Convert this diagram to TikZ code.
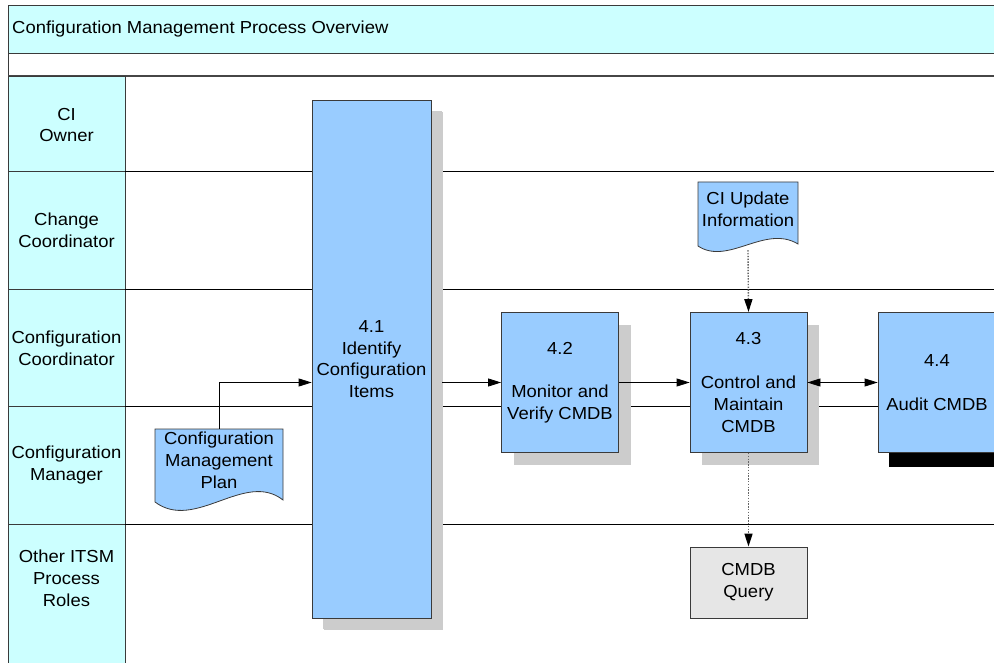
\documentclass[tikz,border=0pt]{standalone}
\usepackage{fontspec}
\setmainfont{Liberation Sans}[FakeStretch=1.06]
\usetikzlibrary{arrows.meta,calc,shadows}
\definecolor{lanecyan}{HTML}{CCFFFF}
\definecolor{boxblue}{HTML}{99CCFF}
\definecolor{shadowgray}{HTML}{CCCCCC}
\definecolor{querygray}{HTML}{E6E6E6}
\definecolor{edgegray}{HTML}{3A3A3A}
\begin{document}
\begin{tikzpicture}[x=1pt,y=-1pt,
  every node/.style={font=\fontsize{17.4}{21.8}\selectfont, align=center, inner sep=0pt},
  lanehead/.style={draw=edgegray, fill=lanecyan, line width=0.8pt},
  procbox/.style={draw=edgegray, fill=boxblue, line width=0.8pt, minimum width=117pt, minimum height=140pt,
    drop shadow={shadow xshift=12pt, shadow yshift=-12pt, fill=shadowgray, opacity=1}},
  docshape/.style={draw=edgegray, fill=boxblue, line width=0.8pt},
  laneline/.style={draw=black, line width=0.8pt},
  arr/.style={draw=black, line width=0.8pt, -{Triangle[length=13pt,width=8pt]}},
  dblarr/.style={draw=black, line width=0.8pt, {Triangle[length=13pt,width=8pt]}-{Triangle[length=13pt,width=8pt]}},
  dotarr/.style={draw=gray!80!black, line width=1.4pt, dash pattern=on 1.4pt off 1.4pt, -{Triangle[length=13pt,width=8pt,color=black,fill=black]}},
]
\useasboundingbox (0,0) rectangle (994,663);
\clip (0,0) rectangle (994,663);

% title band
\draw[fill=lanecyan, draw=edgegray, line width=0.8pt] (8,5) rectangle (1000,53);
\node[anchor=west] (title) at (12,29.5) {Configuration Management Process Overview};
\draw[draw=edgegray, line width=0.8pt] (8,53) -- (8,76);
\draw[draw=gray!55!black, line width=1.6pt] (8,76) -- (1000,76);

% lane headers
\draw[lanehead] (8,76) rectangle (125,171);
\draw[lanehead] (8,171) rectangle (125,289);
\draw[lanehead] (8,289) rectangle (125,406);
\draw[lanehead] (8,406) rectangle (125,524);
\draw[lanehead] (8,524) rectangle (125,690);
\node (hciowner) at (66.5,125) {CI\\Owner};
\node (hchange) at (66.5,230) {Change\\Coordinator};
\node (hccoord) at (66.5,348) {Configuration\\Coordinator};
\node (hcman) at (66.5,465) {Configuration\\Manager};
\node (hother) at (66.5,578) {Other ITSM\\Process\\Roles};

% lane lines
\draw[laneline] (125,171) -- (1000,171);
\draw[laneline] (125,289) -- (1000,289);
\draw[laneline] (125,406) -- (1000,406);
\draw[laneline] (125,524) -- (1000,524);

% documents
\path[docshape] (155,429) -- (155,502) .. controls (195,532) and (245,470) .. (283,500) -- (283,429) -- cycle;
\node[minimum width=128pt, minimum height=62pt] (cmp) at (219,460) {Configuration\\Management\\Plan};

\path[docshape] (698,182) -- (698,246) .. controls (728,266) and (765,224) .. (798,244) -- (798,182) -- cycle;
\node[minimum width=100pt, minimum height=54pt] (ciu) at (748,209) {CI Update\\Information};

% process boxes
\node[procbox, minimum width=119pt, minimum height=518pt, drop shadow={shadow xshift=11pt, shadow yshift=-11pt, fill=shadowgray, opacity=1}] (p41) at (371.5,359) {4.1\\Identify\\Configuration\\Items};
\node[procbox] (p42) at (560,382.5) {4.2\\[21.8pt]Monitor and\\Verify CMDB};
\node[procbox] (p43) at (748.5,382.5) {4.3\\[21.8pt]Control and\\Maintain\\CMDB};
\node[draw=edgegray, fill=boxblue, line width=0.8pt, minimum width=118pt, minimum height=140pt,
  drop shadow={shadow xshift=11pt, shadow yshift=-14pt, fill=black, opacity=1}] (p44) at (937,382.5) {4.4\\[21.8pt]Audit CMDB};
\node[draw=edgegray, fill=querygray, line width=0.8pt, minimum width=117pt, minimum height=71pt] (cq) at (748.5,582.5) {CMDB\\Query};

% connectors
\draw[arr] (cmp.north) |- (p41.west |- p42.west);
\draw[arr] ([xshift=11pt]p41.east |- p42.west) -- (p42.west);
\draw[arr] (p42.east) -- (p43.west);
\draw[dblarr] (p43.east) -- (p44.west);
\draw[dotarr] ($(ciu.south)+(0,14)$) -- (p43.north);
\draw[dotarr] (p43.south) -- (cq.north);
\end{tikzpicture}
\end{document}
